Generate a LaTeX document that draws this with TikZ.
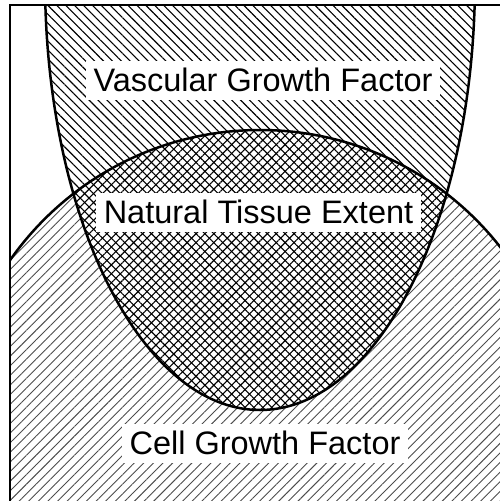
\documentclass[tikz,border=0pt]{standalone}
\usepackage{fontspec}
\setmainfont{Liberation Sans}
\usetikzlibrary{patterns.meta}
\tikzset{
  curve/.style={line width=2.5pt, black},
  frameline/.style={line width=2.4pt, black},
  lbl/.style={fill=white, inner xsep=8pt, inner ysep=0pt, minimum height=39pt,
    font=\fontsize{32.5}{38}\selectfont},
  cellhatch/.style={pattern={Lines[angle=45,distance=6.8pt,line width=0.9pt]}, pattern color=black!70},
  vaschatch/.style={pattern={Lines[angle=-45,distance=6.3pt,line width=1.1pt]}, pattern color=black},
  crosshatch2/.style={pattern={Lines[angle=45,distance=6.3pt,line width=1.1pt]}, pattern color=black},
}
\begin{document}
\begin{tikzpicture}[x=1pt,y=-1pt]
\useasboundingbox (0,0) rectangle (499,501);
\begin{scope}
  \clip (10,5) rectangle (520,520);
  % cell growth factor region
  \fill[cellhatch] (260,435) circle [radius=305pt];
  % vascular growth factor region
  \fill[white] (260,-20) ellipse [x radius=215pt, y radius=430pt];
  \fill[vaschatch] (260,-20) ellipse [x radius=215pt, y radius=430pt];
  % overlap crosshatch
  \begin{scope}
    \clip (260,435) circle [radius=305pt];
    \fill[crosshatch2] (260,-20) ellipse [x radius=215pt, y radius=430pt];
  \end{scope}
  % labels
  \node[lbl] (vgf) at (263,80) {Vascular Growth Factor};
  \node[lbl] (nte) at (258.5,212) {Natural Tissue Extent};
  \node[lbl] (cgf) at (265,443) {Cell Growth Factor};
  % outlines
  \draw[curve] (260,435) circle [radius=305pt];
  \draw[curve] (260,-20) ellipse [x radius=215pt, y radius=430pt];
\end{scope}
\draw[frameline] (10,510) -- (10,5) -- (510,5);
\end{tikzpicture}
\end{document}
